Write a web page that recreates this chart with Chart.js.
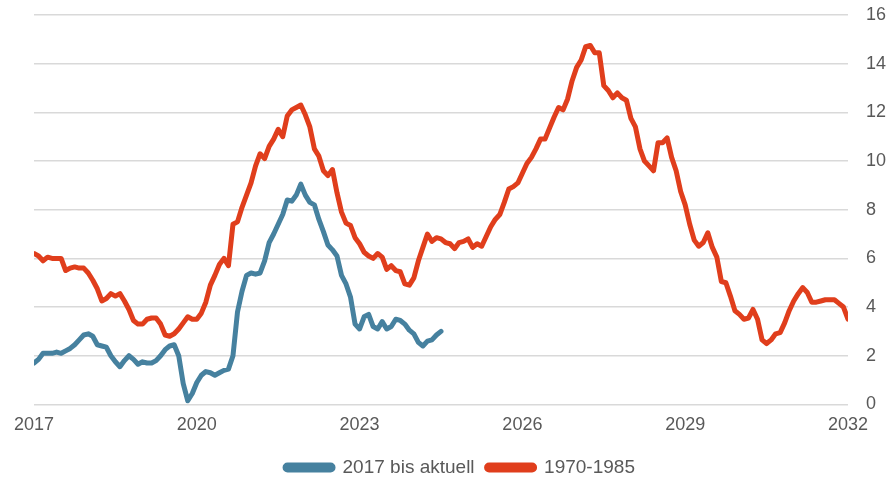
<!DOCTYPE html>
<html>
<head>
<meta charset="utf-8">
<script src="https://cdn.jsdelivr.net/npm/chart.js@4/dist/chart.umd.min.js"></script>
<style>
  html, body { margin: 0; padding: 0; background: #fff; }
  #wrap { width: 886px; height: 477px; position: relative; }
</style>
</head>
<body>
<div id="wrap"><canvas id="myChart"></canvas></div>
<script>
// monthly values, index 0 = Jan 2017 on the x axis
const seriesNames = ["2017 bis aktuell", "1970-1985"];

const blue2017 = [
  1.7, 1.85, 2.1, 2.1, 2.1, 2.15, 2.1, 2.2, 2.3, 2.45, 2.65, 2.85,
  2.9, 2.8, 2.45, 2.4, 2.35, 2.0, 1.75, 1.55, 1.8, 2.0, 1.85, 1.65,
  1.75, 1.7, 1.7, 1.8, 2.0, 2.25, 2.4, 2.45, 2.0, 0.85, 0.15, 0.45,
  0.9, 1.2, 1.35, 1.3, 1.2, 1.3, 1.4, 1.45, 2.0, 3.8, 4.65, 5.3,
  5.4, 5.35, 5.4, 5.9, 6.65, 7.0, 7.4, 7.8, 8.4, 8.35, 8.6, 9.05,
  8.6, 8.3, 8.2, 7.6, 7.1, 6.55, 6.35, 6.1, 5.3, 4.95, 4.4, 3.3,
  3.1, 3.6, 3.7, 3.2, 3.1, 3.4, 3.1, 3.2, 3.5, 3.45, 3.3, 3.05,
  2.9, 2.55, 2.4, 2.6, 2.65, 2.85, 3.0
];

const red1970 = [
  6.2, 6.1, 5.9, 6.05, 6.0, 6.0, 6.0, 5.5, 5.6, 5.65, 5.6, 5.6,
  5.4, 5.1, 4.75, 4.25, 4.35, 4.55, 4.45, 4.55, 4.25, 3.9, 3.45, 3.3,
  3.3, 3.5, 3.55, 3.55, 3.3, 2.85, 2.8, 2.9, 3.1, 3.35, 3.6, 3.5,
  3.5, 3.75, 4.2, 4.9, 5.3, 5.75, 6.0, 5.7, 7.4, 7.5, 8.1, 8.6,
  9.1, 9.8, 10.3, 10.1, 10.6, 10.9, 11.3, 11.0, 11.85, 12.1, 12.2, 12.3,
  11.9, 11.4, 10.5, 10.2, 9.6, 9.4, 9.65, 8.7, 7.9, 7.45, 7.35, 6.85,
  6.6, 6.25, 6.1, 6.0, 6.2, 6.05, 5.55, 5.7, 5.5, 5.45, 4.95, 4.9,
  5.2, 5.9, 6.45, 7.0, 6.7, 6.85, 6.8, 6.65, 6.6, 6.4, 6.65, 6.7,
  6.8, 6.45, 6.6, 6.5, 6.9, 7.3, 7.6, 7.8, 8.3, 8.85, 8.95, 9.1,
  9.5, 9.9, 10.15, 10.5, 10.9, 10.9, 11.35, 11.8, 12.2, 12.1, 12.55, 13.3,
  13.85, 14.15, 14.7, 14.75, 14.45, 14.45, 13.1, 12.9, 12.6, 12.8, 12.6, 12.5,
  11.75, 11.4, 10.5, 10.0, 9.8, 9.6, 10.75, 10.75, 10.95, 10.15, 9.6, 8.75,
  8.2, 7.4, 6.75, 6.5, 6.65, 7.05, 6.45, 6.05, 5.05, 5.0, 4.45, 3.85,
  3.7, 3.5, 3.55, 3.9, 3.5, 2.65, 2.5, 2.65, 2.9, 2.95, 3.35, 3.85,
  4.25, 4.55, 4.8, 4.6, 4.2, 4.2, 4.25, 4.3, 4.3, 4.3, 4.15, 4.0,
  3.5
];

const xTickYears = [2017, 2020, 2023, 2026, 2029, 2032];
const yTicks = [0, 2, 4, 6, 8, 10, 12, 14, 16];

const blueColor = "#46819f";
const redColor = "#e03e1c";
const textColor = "#595959";
const fontFamily = "Liberation Sans, Arial, sans-serif";

/*turn a list of values into {x, y} points, x counted in months*/
function toPoints(values) {
  return values.map((v, i) => ({ x: i, y: v }));
}

function lineSet(label, values, color) {
  return {
    label: label,
    data: toPoints(values),
    borderColor: color,
    backgroundColor: color,
    borderWidth: 5,
    pointRadius: 0,
    tension: 0,
    borderJoinStyle: "round",
    borderCapStyle: "round",
  };
}

const ctx = document.getElementById("myChart").getContext("2d");

let myChart = new Chart(ctx, {
  type: "line",
  data: {
    datasets: [
      lineSet(seriesNames[0], blue2017, blueColor),
      lineSet(seriesNames[1], red1970, redColor),
    ],
  },
  options: {
    responsive: true,
    maintainAspectRatio: false,
    animation: false,
    layout: { autoPadding: false, padding: { left: 34, right: 0, top: 15, bottom: -10 } },
    plugins: {
      tooltip: { enabled: false },
      legend: {
        position: "bottom",
        labels: {
          color: textColor,
          font: { family: fontFamily, size: 19 },
          boxWidth: 48,
          boxHeight: 5,
          useBorderRadius: true,
          borderRadius: 2.5,
          padding: 12,
        },
      },
    },
    scales: {
      x: {
        type: "linear",
        min: 0,
        max: (xTickYears[xTickYears.length - 1] - xTickYears[0]) * 12,
        grid: { display: false, drawTicks: false },
        border: { display: false },
        afterBuildTicks: (axis) => {
          axis.ticks = xTickYears.map((yr) => ({ value: (yr - xTickYears[0]) * 12 }));
        },
        ticks: {
          autoSkip: false,
          maxRotation: 0,
          padding: 10,
          color: textColor,
          font: { family: fontFamily, size: 18 },
          callback: (value) => String(xTickYears[0] + value / 12),
        },
      },
      y: {
        position: "right",
        min: yTicks[0],
        max: yTicks[yTicks.length - 1],
        grid: {
          color: "#d9d9d9",
          lineWidth: 1.6,
          drawTicks: true,
          tickLength: 18,
          tickColor: "rgba(0,0,0,0)",
        },
        border: { display: false },
        afterBuildTicks: (axis) => {
          axis.ticks = yTicks.map((v) => ({ value: v }));
        },
        ticks: {
          padding: 0,
          color: textColor,
          font: { family: fontFamily, size: 18 },
        },
      },
    },
  },
});
</script>
</body>
</html>
